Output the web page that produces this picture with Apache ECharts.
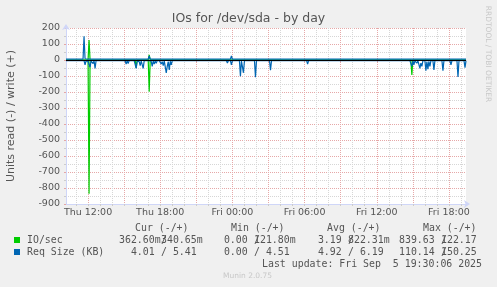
<!DOCTYPE html>
<html><head><meta charset="utf-8">
<script src="https://cdn.jsdelivr.net/npm/echarts@6/dist/echarts.min.js"></script>
<style>html,body{margin:0;padding:0;background:#f0f0f0}#c{width:497px;height:287px}</style>
</head><body><div id="c"></div>
<script>
// ---- axis categories: 5-minute steps, Thu 10:10 .. Fri 19:25 ----
const dayNames = ['Thu', 'Fri'];
const startMinute = 610;
const stepMinutes = 5;
const pointCount = 400;
const categories = [];
for (let i = 0; i < pointCount; i++) {
  const m = startMinute + i * stepMinutes;
  const d = Math.floor(m / 1440), hh = Math.floor((m % 1440) / 60), mm = m % 60;
  categories.push(dayNames[d] + ' ' + String(hh).padStart(2, '0') + ':' + String(mm).padStart(2, '0'));
}
const yMin = -900, yMax = 200, yStep = 100;

// ---- series values: [category index, value] ----
const ioRead = [[0,0],[22,0],[23,-836],[24,0],[69,0],[70,-50],[71,0],[82,0],[83,-198],[84,0],[344,0],[345,-94],[346,0],[399,0]];
const ioWrite = [[0,0],[22,0],[23,125],[24,0],[69,0],[70,10],[71,0],[82,0],[83,32],[84,0],[399,0]];
const reqRead = [[0,-4],[18,-4],[19,-30],[20,-6],[21,-4],[22,-8],[23,-4],[24,-45],[25,-6],[26,-4],[27,-22],[28,-5],[29,-52],[30,-4],
  [34,-4],[35,-15],[36,-4],
  [59,-4],[60,-25],[61,-5],[62,-22],[63,-4],
  [66,-4],[67,-12],[68,-4],[69,-8],[70,-52],[71,-6],[72,-4],[73,-10],[74,-35],[75,-5],[76,-8],[77,-52],[78,-4],
  [81,-4],[82,-10],[83,-4],[84,-15],[85,-8],[86,-40],[87,-5],[88,-25],[89,-6],[90,-20],[91,-4],[92,-10],[93,-4],[94,-8],[95,-25],[96,-10],[97,-35],[98,-6],[99,-15],[100,-80],[101,-40],[102,-10],[103,-62],[104,-8],[105,-30],[106,-4],
  [113,-4],[114,-8],[115,-4],
  [122,-4],[123,-15],[124,-4],
  [160,-4],[161,-18],[162,-4],
  [164,-4],[165,-30],[166,-4],
  [173,-4],[174,-102],[175,-6],[176,-10],[177,-80],[178,-4],
  [188,-4],[189,-108],[190,-4],
  [203,-4],[204,-63],[205,-4],
  [240,-4],[241,-25],[242,-4],
  [343,-4],[344,-8],[345,-40],[346,-6],[347,-30],[348,-5],[349,-8],[350,-20],[351,-4],[352,-10],[353,-52],[354,-20],[355,-40],[356,-4],
  [358,-4],[359,-67],[360,-10],[361,-57],[362,-8],[363,-40],[364,-4],
  [366,-4],[367,-62],[368,-4],
  [375,-4],[376,-67],[377,-4],
  [383,-4],[384,-31],[385,-4],
  [390,-4],[391,-106],[392,-4],
  [397,-4],[398,-48],[399,-4]];
const reqWrite = [[0,5],[17,5],[18,148],[19,8],[20,5],[22,5],[23,12],[24,5],
  [82,5],[83,25],[84,5],[92,5],[93,12],[94,5],
  [164,5],[165,25],[166,5],[173,5],[174,8],[175,5],
  [203,5],[204,10],[205,5],[287,5],[288,10],[289,5],
  [344,5],[345,15],[346,5],[399,5]];

// ---- legend table ----
const legendNames = ['IO/sec', 'Req Size (KB)'];
const legendColors = ['#00cc00', '#0066b3'];
const colHeaders = ['Cur (-/+)', 'Min (-/+)', 'Avg (-/+)', 'Max (-/+)'];
const readVals = [['362.60m', '  0.00 ', '  3.19 ', '839.63 '], ['  4.01 ', '  0.00 ', '  4.92 ', '110.14 ']];
const writeVals = [['340.65m', '121.80m', '822.31m', '122.17 '], ['  5.41 ', '  4.51 ', '  6.19 ', '150.25 ']];
const lastUpdate = 'Last update: Fri Sep  5 19:30:06 2025';

const isHour = (i) => (startMinute + i * stepMinutes) % 60 === 0;
const is3Hour = (i) => (startMinute + i * stepMinutes) % 180 === 0;
const is6Hour = (i) => (startMinute + i * stepMinutes) % 360 === 0;

const chart = echarts.init(document.getElementById('c'), null, {renderer: 'canvas'});
const FONT = '#555555';
const mono = 'DejaVu Sans Mono';
const sans = 'DejaVu Sans';

const graphics = [];
graphics.push({type:'text', x:248.5, y:18.5, style:{text:'IOs for /dev/sda - by day', fontFamily:sans, fontSize:12.5, fill:FONT, align:'center', verticalAlign:'middle'}});
graphics.push({type:'text', x:11, y:116, rotation:Math.PI/2, style:{text:'Units read (-) / write (+)', fontFamily:sans, fontSize:11, fill:FONT, align:'center', verticalAlign:'middle'}});
graphics.push({type:'text', x:488, y:54, rotation:-Math.PI/2, style:{text:'RRDTOOL / TOBI OETIKER', fontFamily:sans, fontSize:7.5, fill:'#c8c8c8', align:'center', verticalAlign:'middle'}});
const colX = [119, 212, 306, 399];
const headX = [135, 231, 327, 423];
colHeaders.forEach((h, k) => graphics.push({type:'text', x:headX[k], y:228, style:{text:h, fontFamily:mono, fontSize:9.9, fill:FONT, align:'left', verticalAlign:'middle'}}));
legendNames.forEach((n, r) => {
  const y = 240 + r * 12;
  graphics.push({type:'rect', shape:{x:14, y:y-3, width:6, height:6}, style:{fill:legendColors[r]}});
  graphics.push({type:'text', x:27, y:y, style:{text:n, fontFamily:mono, fontSize:9.9, fill:FONT, align:'left', verticalAlign:'middle'}});
  colX.forEach((cx, k) => {
    graphics.push({type:'text', x:cx, y:y, style:{text:readVals[r][k], fontFamily:mono, fontSize:9.9, fill:FONT, align:'left', verticalAlign:'middle'}});
    graphics.push({type:'text', x:cx+42, y:y, style:{text:'/', fontFamily:mono, fontSize:9.9, fill:FONT, align:'left', verticalAlign:'middle'}});
    graphics.push({type:'text', x:cx+42, y:y, style:{text:writeVals[r][k], fontFamily:mono, fontSize:9.9, fill:FONT, align:'left', verticalAlign:'middle'}});
  });
});
graphics.push({type:'text', x:482, y:264, style:{text:lastUpdate, fontFamily:mono, fontSize:9.9, fill:FONT, align:'right', verticalAlign:'middle'}});
graphics.push({type:'text', x:247.5, y:276, style:{text:'Munin 2.0.75', fontFamily:sans, fontSize:7.5, fill:'#c8c8c8', align:'center', verticalAlign:'middle'}});

const lineSeries = (data, color, extra) => Object.assign({
  type:'line', data:data, symbol:'none', showSymbol:false, silent:true, animation:false,
  lineStyle:{color:color, width:1.2}, itemStyle:{color:color}
}, extra || {});

chart.setOption({
  backgroundColor:'#f0f0f0',
  animation:false,
  grid:{left:66, right:31, top:28, bottom:83, show:true, backgroundColor:'#ffffff', borderWidth:0},
  xAxis:[{
    type:'category', data:categories, boundaryGap:false,
    axisLine:{show:true, onZero:false, lineStyle:{color:'#CFD6F8', width:1}, symbol:['none','arrow'], symbolSize:[6,6], symbolOffset:[0,4]},
    axisTick:{show:true, length:2, interval:(i)=>isHour(i), lineStyle:{color:'#cccccc'}},
    axisLabel:{interval:(i)=>is6Hour(i), color:FONT, fontFamily:sans, fontSize:9.5, margin:4},
    splitLine:{show:true, interval:(i)=>isHour(i), lineStyle:{color:'#d6d6d6', type:[1,1], width:1}}
  },{
    type:'category', data:categories, boundaryGap:false, position:'bottom',
    axisLine:{show:false}, axisLabel:{show:false},
    axisTick:{show:true, length:2, interval:(i)=>is3Hour(i), lineStyle:{color:'#e4a6a6'}},
    splitLine:{show:true, interval:(i)=>is3Hour(i), lineStyle:{color:'#e6a8a8', type:[1,1], width:1}}
  }],
  yAxis:{
    type:'value', min:yMin, max:yMax, interval:yStep,
    axisLine:{show:true, onZero:false, lineStyle:{color:'#CFD6F8', width:1}, symbol:['none','arrow'], symbolSize:[6,6], symbolOffset:[0,4]},
    axisTick:{show:true, length:2, lineStyle:{color:'#e4a6a6'}},
    minorTick:{show:true, splitNumber:2, length:2, lineStyle:{color:'#cccccc'}},
    axisLabel:{color:FONT, fontFamily:sans, fontSize:9.5, margin:6},
    splitLine:{show:true, lineStyle:{color:'#e6a8a8', type:[1,1], width:1}},
    minorSplitLine:{show:true, lineStyle:{color:'#d6d6d6', type:[1,1], width:1}}
  },
  series:[
    lineSeries(ioRead, legendColors[0]),
    lineSeries(ioWrite, legendColors[0]),
    lineSeries(reqRead, legendColors[1]),
    lineSeries(reqWrite, legendColors[1], {markLine:{silent:true, symbol:'none', label:{show:false}, animation:false,
      lineStyle:{color:'#000000', width:1, type:'solid'}, data:[{yAxis:0}]}})
  ],
  graphic:graphics
});
</script></body></html>
